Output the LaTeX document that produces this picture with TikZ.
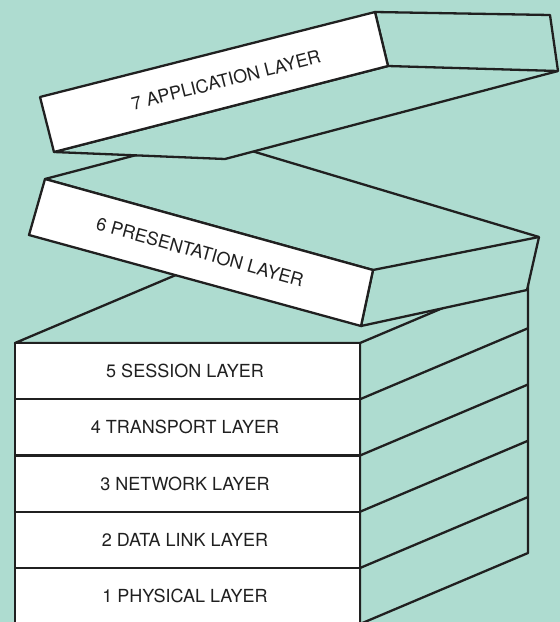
\documentclass[tikz,border=0pt]{standalone}
\usepackage{fontspec}
\setmainfont{TeX Gyre Heros}
\usepackage{xcolor}
\usetikzlibrary{positioning, calc}
\definecolor{mint}{RGB}{174,220,208}
\definecolor{ink}{RGB}{32,32,32}

\begin{document}
\begin{tikzpicture}[x=1pt, y=-1pt,
    edge/.style={draw=ink, line width=2.3pt, line join=round},
    front/.style={edge, fill=white},
    side/.style={edge, fill=mint},
    caption/.style={font=\fontsize{18}{21}\selectfont, text=ink, inner sep=0pt}]
    \clip (0,0) rectangle (560,622);
    \fill[mint] (0,0) rectangle (560,622);
    % lower stack, layers 5 to 1
    \draw[side] (15,343) -- (183,272) -- (528,272) -- (528,553) -- (360,624) -- (360,343) -- cycle;
    \foreach \num/\lbl [count=\i from 0] in {5/SESSION, 4/TRANSPORT, 3/NETWORK, 2/DATA LINK, 1/PHYSICAL} {
      \pgfmathsetmacro\ytop{343+56.25*\i}
      \draw[front] (15,\ytop) rectangle (360,\ytop+56.25);
      \draw[edge] (360,\ytop) -- (528,\ytop-71);
      \node[caption] (l\num) at (185,\ytop+28.1) {\num\ \lbl\ LAYER};
    }
    % layer 6, tilted down
    \draw[side] (45,179) -- (205,137) -- (539,237) -- (527,290) -- (361,326) -- (373,270) -- cycle;
    \draw[edge] (373,270) -- (539,237);
    \draw[front] (45,179) -- (373,270) -- (361,326) -- (29,235) -- cycle;
    \node[caption, rotate=-15.5] (l6) at (200,252) {6 PRESENTATION LAYER};
    % layer 7, tilted up
    \draw[side] (54,152) -- (225,159) -- (558,71) -- (550,15) -- (375,12) -- (388,66) -- cycle;
    \draw[edge] (388,66) -- (558,71);
    \draw[front] (40,97) -- (375,12) -- (388,66) -- (54,152) -- cycle;
    \node[caption, rotate=14.3] (l7) at (226,80) {7 APPLICATION LAYER};
  \end{tikzpicture}
\end{document}
